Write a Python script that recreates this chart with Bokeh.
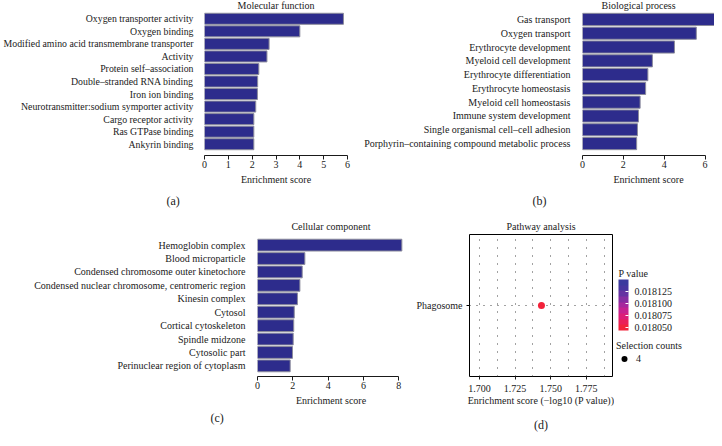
import numpy as np
from bokeh.plotting import figure
from bokeh.models import (Range1d, FactorRange, FixedTicker, Label, ColorBar, Title,
                          LinearColorMapper, Legend, LegendItem, PrintfTickFormatter,
                          ColumnDataSource)
from bokeh.layouts import row, column
from bokeh.embed import file_html
from bokeh.resources import INLINE

# ---------------- data ----------------
mf_terms = ["Oxygen transporter activity", "Oxygen binding",
            "Modified amino acid transmembrane transporter", "Activity",
            "Protein self–association", "Double–stranded RNA binding",
            "Iron ion binding", "Neurotransmitter:sodium symporter activity",
            "Cargo receptor activity", "Ras GTPase binding", "Ankyrin binding"]
mf_scores = [5.83, 4.00, 2.71, 2.62, 2.28, 2.23, 2.22, 2.15, 2.07, 2.07, 2.07]
mf_ticks = [0, 1, 2, 3, 4, 5, 6]

bp_terms = ["Gas transport", "Oxygen transport", "Erythrocyte development",
            "Myeloid cell development", "Erythrocyte differentiation",
            "Erythrocyte homeostasis", "Myeloid cell homeostasis",
            "Immune system development", "Single organismal cell–cell adhesion",
            "Porphyrin–containing compound metabolic process"]
bp_scores = [6.79, 5.57, 4.50, 3.42, 3.20, 3.09, 2.82, 2.74, 2.69, 2.65]
bp_ticks = [0, 2, 4, 6]

cc_terms = ["Hemoglobin complex", "Blood microparticle",
            "Condensed chromosome outer kinetochore",
            "Condensed nuclear chromosome, centromeric region",
            "Kinesin complex", "Cytosol", "Cortical cytoskeleton",
            "Spindle midzone", "Cytosolic part", "Perinuclear region of cytoplasm"]
cc_scores = [8.17, 2.68, 2.53, 2.40, 2.26, 2.08, 2.05, 2.02, 1.98, 1.85]
cc_ticks = [0, 2, 4, 6, 8]

pw_terms = ["Phagosome"]
pw_pvalue = [0.01805]
pw_counts = [4]
pw_ticks = [1.700, 1.725, 1.750, 1.775]
pw_minor = [1.7125, 1.7375, 1.7625, 1.7875]
pv_ticks = [0.018050, 0.018075, 0.018100, 0.018125]

# ---------------- style ----------------
FONT = "Liberation Serif"
FS = "10px"
BAR_FILL = "#2D2C8C"
BAR_LINE = "#8C8C9C"
TXT = "#1a1a1a"


def style_title(p, text, standoff, align="center", offset=0):
    p.title.text = text
    p.title.align = align
    p.title.offset = offset
    p.title.text_font = FONT
    p.title.text_font_size = FS
    p.title.text_font_style = "normal"
    p.title.text_color = TXT
    p.title.standoff = standoff


def add_tag(p, text, align, offset, standoff):
    p.add_layout(Title(text=text, align=align, offset=offset, standoff=standoff,
                       text_font=FONT, text_font_size="12px", text_font_style="normal",
                       text_color=TXT), "below")


def style_xaxis(xa, label, tick_out=4, tick_standoff=1, label_standoff=3):
    xa.major_tick_out = tick_out
    xa.major_tick_in = 0
    xa.minor_tick_line_color = None
    xa.major_tick_line_color = TXT
    xa.major_label_standoff = tick_standoff
    xa.major_label_text_font = FONT
    xa.major_label_text_font_size = FS
    xa.major_label_text_color = TXT
    xa.axis_label = label
    xa.axis_label_text_font = FONT
    xa.axis_label_text_font_size = FS
    xa.axis_label_text_font_style = "normal"
    xa.axis_label_text_color = TXT
    xa.axis_label_standoff = label_standoff


def bar_panel(terms, scores, ticks, title, tag, x_end, width, height,
              left, right, top, bottom, pad, title_standoff, tag_offset, tag_standoff,
              ylab_size=FS, ylab_standoff=6, title_align="center", title_offset=0):
    p = figure(width=width, height=height, output_backend="svg", toolbar_location=None,
               y_range=FactorRange(factors=list(reversed(terms)), range_padding=pad),
               x_range=Range1d(0, x_end), min_border_left=left, min_border_right=right,
               min_border_top=top, min_border_bottom=bottom, outline_line_color=None)
    src = ColumnDataSource(dict(term=terms, score=scores))
    p.hbar(y="term", left=0, right="score", height=0.88, source=src,
           fill_color=BAR_FILL, line_color=BAR_LINE, line_width=1)
    p.xgrid.grid_line_color = None
    p.ygrid.grid_line_color = None
    xa = p.xaxis[0]
    xa.ticker = FixedTicker(ticks=ticks)
    xa.bounds = (ticks[0], ticks[-1])
    xa.axis_line_color = TXT
    style_xaxis(xa, "Enrichment score")
    ya = p.yaxis[0]
    ya.axis_line_color = None
    ya.major_tick_line_color = None
    ya.minor_tick_line_color = None
    ya.major_label_standoff = ylab_standoff
    ya.major_label_text_font = FONT
    ya.major_label_text_font_size = ylab_size
    ya.major_label_text_color = TXT
    style_title(p, title, title_standoff, title_align, title_offset)
    add_tag(p, tag, "left", tag_offset, tag_standoff)
    return p


pA = bar_panel(mf_terms, mf_scores, mf_ticks, "Molecular function", "(a)", 6.0,
               361, 212, 203, 14, 7, 57, 0.0727, -6, -38, 9,
               ylab_size="9.8px", ylab_standoff=5)
pB = bar_panel(bp_terms, bp_scores, bp_ticks, "Biological process", "(b)", 6.46,
               353, 212, 217, 0, 7, 57, 0.0727, -6, -50, 9,
               title_align="left", title_offset=19)
pC = bar_panel(cc_terms, cc_scores, cc_ticks, "Cellular component", "(c)", 8.32,
               408, 226, 257, 4, 22, 59, 0.0584, 5, -47, 0)

# ---------------- pathway panel ----------------
pw_score = [-np.log10(v) for v in pw_pvalue]
mapper = LinearColorMapper(
    palette=["#F2223A", "#EA1F58", "#DC1E78", "#C62290", "#A7289D",
             "#862DA2", "#6532A2", "#47369F", "#3B3A9E"],
    low=0.018043, high=0.018149)

pD = figure(width=206, height=226, output_backend="svg", toolbar_location=None,
            x_range=Range1d(1.69296, 1.79345), y_range=FactorRange(factors=pw_terms),
            min_border_left=61, min_border_right=2, min_border_top=22,
            min_border_bottom=59, outline_line_color="black", outline_line_width=1)
srcD = ColumnDataSource(dict(term=pw_terms, score=pw_score, p=pw_pvalue, n=pw_counts))
pD.scatter(x="score", y="term", source=srcD, size=7, line_color=None,
           fill_color={"field": "p", "transform": mapper})

xa = pD.xaxis[0]
xa.ticker = FixedTicker(ticks=pw_ticks, minor_ticks=pw_minor)
xa.formatter = PrintfTickFormatter(format="%.3f")
xa.axis_line_color = None
style_xaxis(xa, "Enrichment score (−log10 (P value))", tick_out=3,
            tick_standoff=4, label_standoff=0)
ya = pD.yaxis[0]
ya.axis_line_color = None
ya.major_tick_out = 3
ya.major_tick_in = 0
ya.major_tick_line_color = "black"
ya.major_label_standoff = 4
ya.major_label_text_font = FONT
ya.major_label_text_font_size = FS
ya.major_label_text_color = TXT

pD.xgrid.grid_line_color = "#444444"
pD.xgrid.grid_line_dash = "1 7"
pD.xgrid.minor_grid_line_color = "#444444"
pD.xgrid.minor_grid_line_dash = "1 7"
pD.ygrid.grid_line_color = "#444444"
pD.ygrid.grid_line_dash = "1 6"
style_title(pD, "Pathway analysis", 5)
add_tag(pD, "(d)", "center", 0, 14)

# ---------------- legend area for the pathway panel ----------------
# frame of this panel is aligned with the pathway frame (145 px tall)
pE = figure(width=100, height=226, output_backend="svg", toolbar_location=None,
            x_range=Range1d(0, 100), y_range=Range1d(145, 0),
            x_axis_location=None, y_axis_location=None,
            min_border_left=0, min_border_right=0, min_border_top=22,
            min_border_bottom=59, outline_line_color=None)
pE.xgrid.grid_line_color = None
pE.ygrid.grid_line_color = None
# legend key placeholder, kept outside the visible range
key = pE.scatter(x=[-50], y=[-50], size=7, fill_color="black", line_color=None)

cb = ColorBar(color_mapper=mapper, ticker=FixedTicker(ticks=pv_ticks),
              formatter=PrintfTickFormatter(format="%.6f"), width=10, height=51,
              location=(4, 46), padding=0, margin=0, title=None,
              major_tick_line_color="white", major_tick_in=3, major_tick_out=0,
              minor_tick_line_color=None, bar_line_color=None, border_line_color=None,
              background_fill_alpha=0, label_standoff=6,
              major_label_text_font=FONT, major_label_text_font_size=FS,
              major_label_text_color=TXT)
pE.add_layout(cb, "center")

lg = Legend(items=[LegendItem(label="4", renderers=[key])], title="Selection counts",
            location=(2, 10), padding=0, margin=0, spacing=0, title_standoff=-2,
            label_standoff=4, glyph_width=16, glyph_height=15, border_line_color=None,
            background_fill_alpha=0, label_text_font=FONT, label_text_font_size=FS,
            label_text_color=TXT, title_text_font=FONT, title_text_font_size=FS,
            title_text_font_style="normal", title_text_color=TXT)
pE.add_layout(lg, "center")

pE.add_layout(Label(x=4, y=40, text="P value", text_align="left",
                    text_baseline="middle", text_font=FONT, text_font_size=FS,
                    text_color=TXT))

layout = column(row(pA, pB), row(pC, pD, pE))
open("out.html", "w").write(file_html(layout, INLINE))
